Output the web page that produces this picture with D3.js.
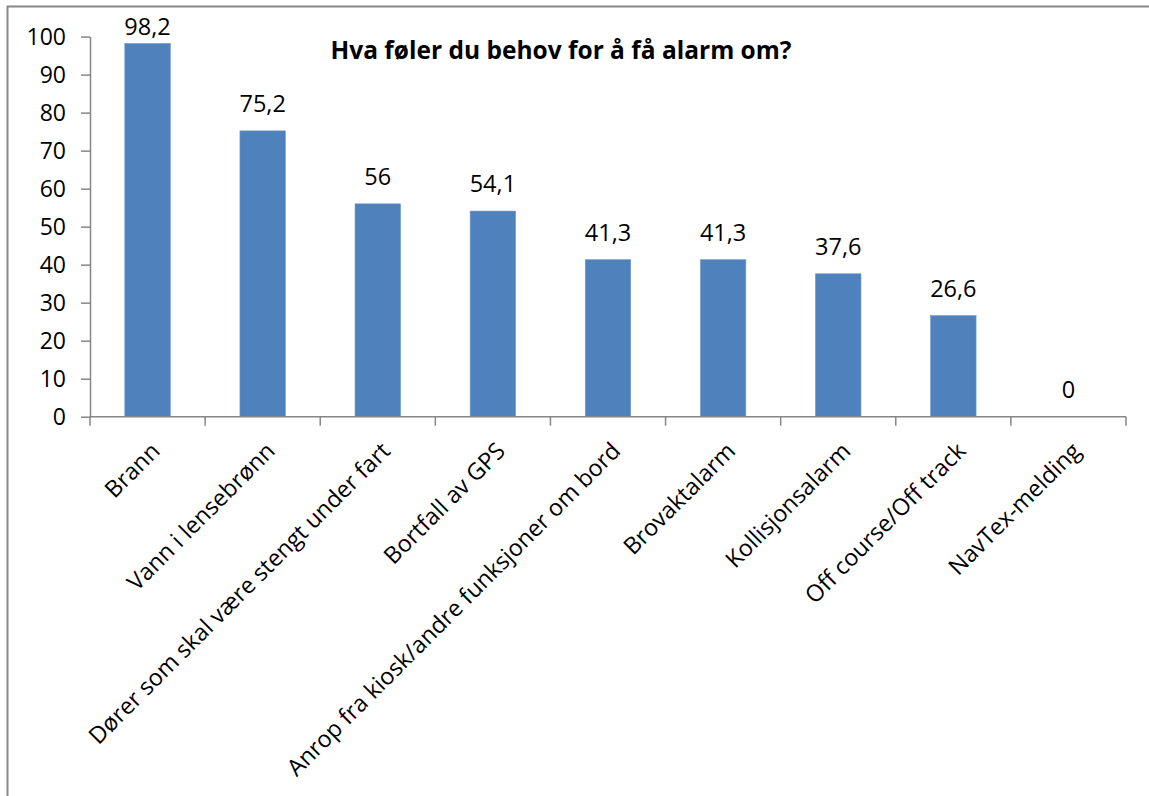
<!DOCTYPE html>
<html><head><meta charset="utf-8">
<script src="https://cdn.jsdelivr.net/npm/d3@7"></script>
<style>
html,body{margin:0;padding:0;background:#fff;}
text{font-family:"Open Sans",sans-serif;fill:#000;}
</style></head>
<body>
<svg id="chart" width="1149" height="796"></svg>
<script>
const categories = ["Brann","Vann i lensebrønn","Dører som skal være stengt under fart","Bortfall av GPS","Anrop fra kiosk/andre funksjoner om bord","Brovaktalarm","Kollisjonsalarm","Off course/Off track","NavTex-melding"];
const values = [98.2,75.2,56,54.1,41.3,41.3,37.6,26.6,0];
const valueLabels = ["98,2","75,2","56","54,1","41,3","41,3","37,6","26,6","0"];
const yTicks = [0,10,20,30,40,50,60,70,80,90,100];
const title = "Hva føler du behov for å få alarm om?";

(function(){
const svg = d3.select("#chart");
svg.append("rect").attr("x",7.5).attr("y",6.5).attr("width",1160).attr("height",820)
  .attr("fill","#fff").attr("stroke","#888").attr("stroke-width",2);

const pLeft=90, pRight=1126, pTop=36.6, pBottom=416.7;
const x = d3.scaleBand().domain(categories).range([pLeft,pRight]).paddingInner(0.605).paddingOuter(0.3025);
const xb = d3.scaleBand().domain(categories).range([pLeft,pRight]);
const y = d3.scaleLinear().domain([0,100]).range([pBottom,pTop]);

svg.append("g").selectAll("rect").data(values).join("rect")
  .attr("x",(d,i)=>x(categories[i])).attr("width",x.bandwidth())
  .attr("y",d=>y(d)).attr("height",d=>pBottom-y(d))
  .attr("fill","#4F81BD").attr("stroke","#6f97c9").attr("stroke-width",0.6);

const yAxis = d3.axisLeft(y).tickValues(yTicks).tickSize(9).tickPadding(15).tickSizeOuter(0);
const gy = svg.append("g").attr("transform",`translate(${pLeft},0)`).call(yAxis);
gy.select(".domain").attr("stroke","#868686").attr("stroke-width",1.5);
gy.selectAll(".tick line").attr("stroke","#868686").attr("stroke-width",1.5);
gy.selectAll(".tick text").style("font-family","'Open Sans',sans-serif").style("font-size","23px").attr("fill","#000").attr("dy","0.36em");

const gx = svg.append("g").attr("transform",`translate(0,${pBottom})`);
gx.append("line").attr("x1",pLeft).attr("x2",pRight).attr("stroke","#868686").attr("stroke-width",1.5);
const bounds = categories.map(c=>xb(c)).concat([pRight]);
gx.selectAll("line.t").data(bounds).join("line").attr("class","t")
  .attr("x1",d=>d).attr("x2",d=>d).attr("y1",0).attr("y2",9)
  .attr("stroke","#868686").attr("stroke-width",1.5);
gx.selectAll("text").data(categories).join("text")
  .attr("transform",c=>`translate(${xb(c)+xb.bandwidth()/2+8},${30}) rotate(-45)`)
  .attr("text-anchor","end").attr("dy","0.35em")
  .style("font-size","23.3px").text(c=>c);

svg.append("g").selectAll("text").data(values).join("text")
  .attr("x",(d,i)=>xb(categories[i])+xb.bandwidth()/2)
  .attr("y",d=>Math.max(y(d)-19, pTop-2))
  .attr("text-anchor","middle").style("font-size","23.5px")
  .text((d,i)=>valueLabels[i]);

svg.append("text").attr("x",561).attr("y",59).attr("text-anchor","middle")
  .style("font-size","24.5px").style("font-weight","bold").text(title);
})();
</script>
</body></html>
